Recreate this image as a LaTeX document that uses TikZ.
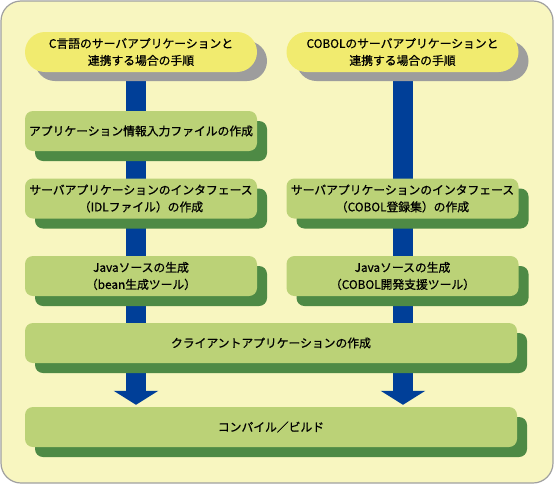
\documentclass[tikz,border=0pt]{standalone}
\usepackage{fontspec}
\newfontfamily\jp[FakeBold=0.8]{Noto Sans CJK JP}
\usepackage{xcolor}
\usetikzlibrary{arrows.meta, positioning, calc, shadows}
\definecolor{paper}{HTML}{F8F6C0}
\definecolor{framegray}{HTML}{A0A0A0}
\definecolor{startfill}{HTML}{F1EB6F}
\definecolor{startshadow}{HTML}{9D9D9D}
\definecolor{boxfill}{HTML}{BBD277}
\definecolor{boxshadow}{HTML}{4E8A45}
\definecolor{flowblue}{HTML}{003F98}
\pgfdeclarelayer{back}
\pgfdeclarelayer{bars}
\pgfsetlayers{back,bars,main}

\begin{document}
\begin{tikzpicture}[
	x=1pt,y=-1pt,
	start/.style={rectangle,fill=startfill,rounded corners=20pt,minimum width=232pt,
		minimum height=40pt,inner sep=0pt,align=center,
		font=\jp\fontsize{11.8}{17}\selectfont,
		drop shadow={shadow xshift=10pt,shadow yshift=-9pt,fill=startshadow,opacity=1}},
	stepbox/.style={rectangle,fill=boxfill,rounded corners=8pt,minimum width=232pt,
		minimum height=40pt,inner sep=0pt,align=center,
		font=\jp\fontsize{11.8}{17}\selectfont,
		drop shadow={shadow xshift=10pt,shadow yshift=-10pt,fill=boxshadow,opacity=1}},
	widebox/.style={stepbox,minimum width=492pt},
	bar/.style={draw=flowblue,line width=20pt},
	flow/.style={draw=flowblue,line width=20pt,shorten >=2pt,
		-{Triangle[width=44pt,length=14pt]}},
	]
	\useasboundingbox (0,0) rectangle (554,485);
	\begin{pgfonlayer}{back}
		\draw[draw=framegray,fill=paper,line width=1.2pt,rounded corners=20pt]
		(1,1) rectangle (553,483);
	\end{pgfonlayer}
	\coordinate (lx) at (136,0);
	\coordinate (rx) at (403,0);
	
	% C column
	\node[start] (cstart) at (141,52) {C言語のサーバアプリケーションと\\連携する場合の手順};
	\node[stepbox] (cinfo) at (141,131) {アプリケーション情報入力ファイルの作成};
	\node[stepbox] (cidl) at (141,198.5) {サーバアプリケーションのインタフェース\\（IDLファイル）の作成};
	\node[stepbox] (cjava) at (141,276) {Javaソースの生成\\（bean生成ツール）};
	
	% COBOL column
	\node[start] (bstart) at (402.5,52) {COBOLのサーバアプリケーションと\\連携する場合の手順};
	\node[stepbox] (bidl) at (402.5,198.5) {サーバアプリケーションのインタフェース\\（COBOL登録集）の作成};
	\node[stepbox] (bjava) at (402.5,276) {Javaソースの生成\\（COBOL開発支援ツール）};
	
	% common steps
	\node[widebox] (client) at (271,343) {クライアントアプリケーションの作成};
	\node[widebox] (build) at (271,427) {コンパイル／ビルド};
	
	\begin{pgfonlayer}{bars}
		\draw[bar] (cstart.south -| lx) -- (client.north -| lx);
		\draw[bar] (bstart.south -| rx) -- (client.north -| rx);
		\draw[flow] (client.south -| lx) -- (build.north -| lx);
		\draw[flow] (client.south -| rx) -- (build.north -| rx);
	\end{pgfonlayer}
\end{tikzpicture}
\end{document}
